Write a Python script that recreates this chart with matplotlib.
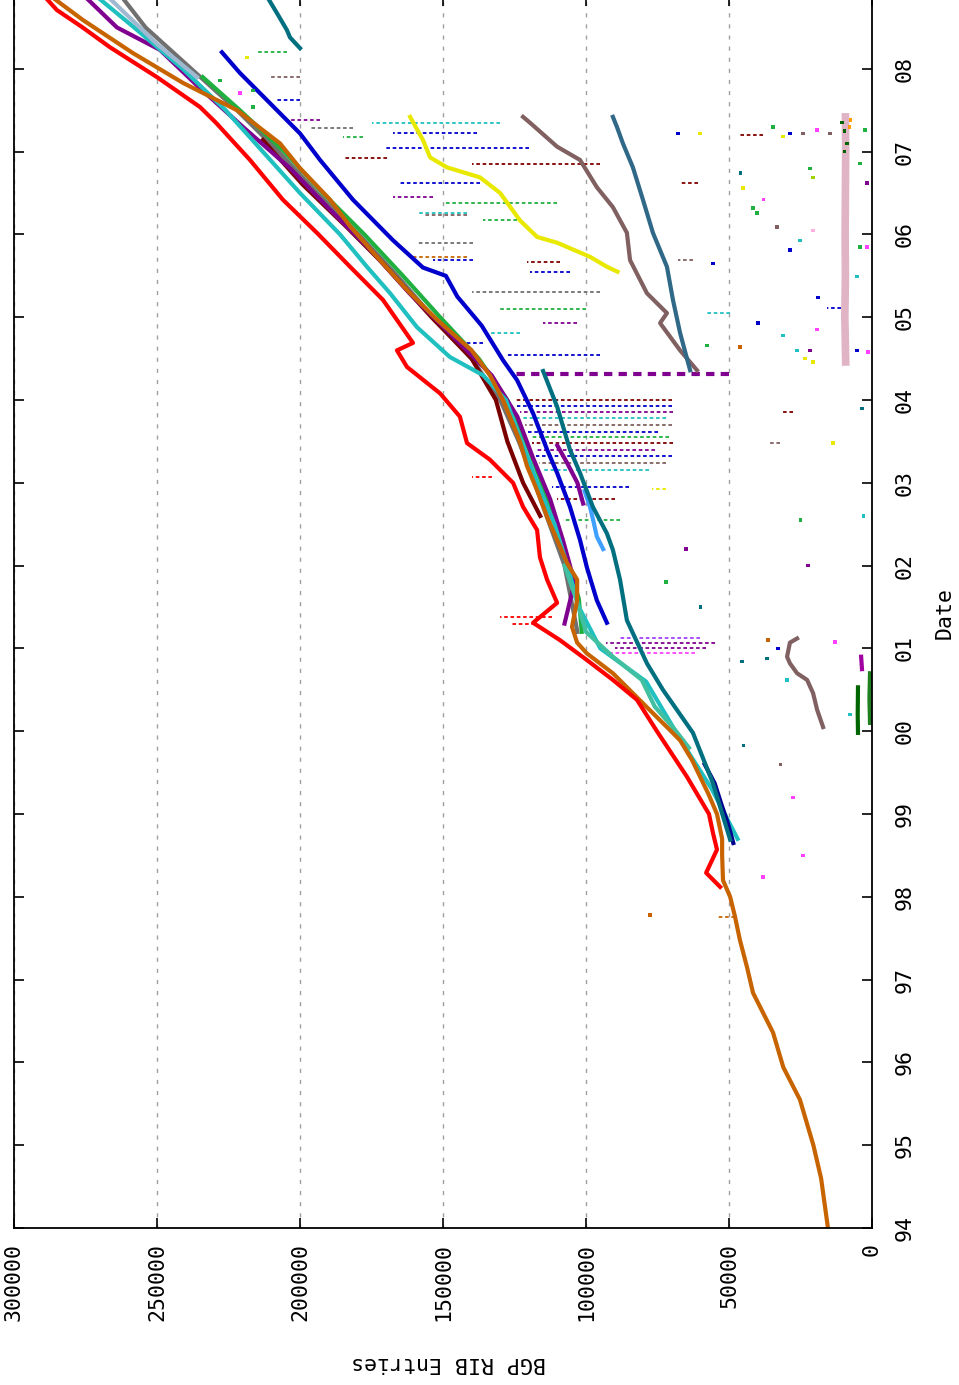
import matplotlib
matplotlib.use("Agg")
import matplotlib.pyplot as plt

# date (decimal year) / BGP RIB entries
orange_d = [1994.0, 1994.6, 1995.0, 1995.55, 1995.94, 1996.36, 1996.84, 1997.15, 1997.48, 1997.76,
            1998.0, 1998.2, 1998.5, 1998.7, 1999.0, 1999.25, 1999.45, 1999.65, 1999.89, 2000.05,
            2000.3, 2000.7, 2000.94, 2001.07, 2001.26, 2001.58, 2001.83, 2002.03, 2002.31, 2002.59,
            2002.91, 2003.2, 2003.5, 2004.0, 2004.3, 2004.6, 2004.97, 2005.33, 2005.73, 2006.1,
            2006.42, 2006.8, 2007.1, 2007.5, 2007.83, 2008.19, 2008.59, 2008.9]
orange_v = [15400, 17800, 20500, 25200, 31000, 34600, 41600, 43700, 46200, 47900,
            49600, 52100, 52400, 52400, 54200, 57300, 60100, 62900, 67100, 71700,
            79000, 90600, 99700, 103100, 104900, 103100, 103100, 106600, 110100, 113600,
            117100, 120600, 123100, 129000, 133600, 140000, 152100, 162600, 173100, 182500,
            189500, 200000, 207000, 222000, 240900, 258400, 275900, 288000]

red_d = [1998.12, 1998.29, 1998.57, 1998.77, 1999.0, 1999.45, 2000.0, 2000.38, 2000.62, 2000.86,
         2001.1, 2001.31, 2001.55, 2001.83, 2002.1, 2002.43, 2002.71, 2003.0, 2003.28, 2003.48,
         2003.8, 2004.08, 2004.4, 2004.6, 2004.69, 2005.21, 2005.61, 2006.02, 2006.42, 2006.9,
         2007.35, 2007.54, 2007.9, 2008.26, 2008.5, 2008.71, 2008.9]
red_v = [53100, 58000, 54200, 55600, 57000, 64700, 75200, 82200, 90600, 99700,
         109100, 118500, 110100, 113600, 116100, 117100, 122000, 125500, 133600, 141600,
         144100, 151000, 162600, 166100, 160500, 171000, 182500, 194100, 206000, 217500,
         229400, 235000, 250000, 266400, 276000, 285000, 290000]

teal_d = [1998.69, 1999.37, 1999.98, 2000.5, 2000.82, 2001.34, 2001.83, 2002.19, 2002.39, 2002.71,
          2003.12, 2003.4, 2003.92, 2004.35]
teal_v = [49600, 55600, 62600, 73100, 78700, 85700, 88100, 90600, 92700, 97600,
          102100, 105600, 110100, 115000]
teal_top_d = [2008.25, 2008.38, 2008.47, 2008.67, 2008.9]
teal_top_v = [200000, 203500, 204600, 208000, 212000]

blue_d = [2001.31, 2001.58, 2001.98, 2002.31, 2002.71, 2003.12, 2003.4, 2003.84, 2004.24, 2004.48,
          2004.9, 2005.25, 2005.5, 2005.6, 2005.93, 2006.42, 2006.9, 2007.22, 2007.62, 2007.95, 2008.2]
blue_v = [92700, 96200, 99700, 102100, 105600, 110100, 113600, 118500, 124100, 129000,
          136500, 145000, 149000, 157000, 167500, 181500, 193000, 200000, 211500, 221000, 227300]

maroon_d = [2002.6, 2003.0, 2003.5, 2004.0, 2004.5, 2005.0, 2005.65, 2006.1, 2006.6, 2007.14]
maroon_v = [116000, 122000, 127500, 131500, 140000, 154000, 171000, 184000, 199000, 213000]

purple_d = [2001.3, 2001.8, 2002.3, 2002.8, 2003.3, 2003.8, 2004.3, 2004.8, 2005.3, 2005.8,
            2006.3, 2006.8, 2007.3, 2007.8, 2008.23, 2008.5, 2008.9]
purple_v = [107500, 104000, 108000, 112500, 118500, 124000, 133000, 147500, 162000, 175000,
            189500, 203500, 220000, 236000, 249000, 264000, 276000]
purple_b_d = [2002.75, 2003.0, 2003.24, 2003.45]
purple_b_v = [101000, 103000, 106600, 110000]

cyan_d = [1998.7, 1999.3, 1999.9, 2000.6, 2001.0, 2001.5, 2002.0, 2002.5, 2003.0, 2003.5,
          2004.0, 2004.3, 2004.52, 2004.88, 2005.29, 2005.61, 2006.0, 2006.5, 2007.0, 2007.5,
          2008.0, 2008.5, 2008.9]
cyan_v = [47000, 56000, 67000, 79000, 95000, 102500, 106500, 111000, 117000, 122500,
          128000, 136000, 147600, 159100, 168500, 176600, 186000, 200000, 213000, 226000,
          241000, 258000, 272000]

gray_d = [2001.2, 2002.0, 2003.0, 2003.5, 2004.0, 2004.5, 2005.0, 2005.5, 2006.0, 2006.5,
          2007.0, 2007.5, 2008.0, 2008.5, 2008.9]
gray_v = [103000, 107500, 118000, 123500, 130000, 140000, 153500, 166000, 179500, 194000,
          207500, 222000, 238000, 254000, 263000]

silver_d = [2007.9, 2008.3, 2008.6, 2008.9]
silver_v = [236000, 250000, 259000, 268000]

green_d = [2001.2, 2001.6, 2002.0, 2002.5, 2003.0, 2003.5, 2004.0, 2004.5, 2005.0, 2005.5,
           2006.0, 2006.5, 2007.0, 2007.5, 2007.9]
green_v = [101500, 102500, 106000, 110000, 115500, 121000, 127500, 137500, 151000, 164000,
           177500, 192000, 205500, 221000, 234000]

seagreen_d = [1999.8, 2000.0, 2000.3, 2000.62, 2000.9, 2001.2, 2001.6, 2002.0]
seagreen_v = [64000, 68500, 76000, 80500, 90600, 100000, 103500, 107500]

navy_d = [1998.65, 1998.9, 1999.1, 1999.37, 1999.6]
navy_v = [48500, 50500, 52500, 55000, 58500]

lightblue_d = [2002.2, 2002.35, 2002.55, 2002.71, 2002.9]
lightblue_v = [94000, 96200, 97500, 98600, 100500]

yellow_d = [2005.55, 2005.61, 2005.73, 2005.9, 2005.97, 2006.17, 2006.5, 2006.69, 2006.81, 2006.93,
            2007.14, 2007.42]
yellow_v = [89000, 92700, 98600, 110100, 117100, 123100, 130000, 137100, 148600, 154500,
            157000, 161500]

brown_a_d = [2000.05, 2000.26, 2000.46, 2000.62, 2000.7, 2000.82, 2000.9, 2001.07, 2001.12]
brown_a_v = [17100, 19200, 20600, 22700, 26200, 28700, 29700, 28700, 26200]
brown_b_d = [2004.36, 2004.6, 2004.93, 2005.05, 2005.29, 2005.69, 2006.02, 2006.33, 2006.57, 2006.9,
             2007.06, 2007.35, 2007.42]
brown_b_v = [61200, 67100, 74100, 71700, 78700, 84600, 85700, 90600, 96200, 102100,
             110100, 119600, 122000]

steel_d = [2004.36, 2004.81, 2005.21, 2005.61, 2006.02, 2006.42, 2006.81, 2007.1, 2007.3, 2007.42]
steel_v = [63600, 67100, 69600, 71700, 76600, 80100, 83600, 87100, 89200, 90600]

pink_d = [2004.46, 2005.0, 2005.5, 2006.0, 2006.5, 2007.0, 2007.42]
pink_v = [9200, 9500, 9300, 9400, 9300, 9200, 9300]

dkgreen_d = [1999.98, 2000.2, 2000.53]
dkgreen_v = [4900, 5000, 4900]
dkgreen2_d = [2000.1, 2000.4, 2000.7]
dkgreen2_v = [700, 900, 700]
purple_s_d = [2000.75, 2000.9]
purple_s_v = [3500, 3800]

# session resets: date, lowest value, highest value, colour
streak_d = [2008.2, 2007.9, 2007.62, 2007.38, 2007.29, 2007.22, 2007.18, 2006.92, 2006.62, 2006.45,
            2006.26, 2005.9, 2005.69, 2005.73, 2006.23, 2006.17, 2005.67, 2005.55, 2004.93, 2004.81,
            2004.69, 2005.3, 2005.1, 2004.55, 2006.38, 2006.85, 2007.05, 2007.35, 2007.2, 2006.62,
            2005.69, 2005.11, 2005.05, 2004.32, 2004.0, 2003.93, 2003.86, 2003.78, 2003.7, 2003.62,
            2003.55, 2003.48, 2003.4, 2003.32, 2003.24, 2003.16, 2003.86, 2003.48, 2002.95, 2002.8,
            2002.55, 2002.92, 2000.95, 2001.0, 2001.07, 2001.12, 2001.38, 2001.29, 2003.07, 1997.76]
streak_lo = [204600, 200000, 200000, 193000, 181500, 138000, 178000, 169600, 137000, 153500,
             141600, 139500, 139500, 141600, 141600, 124000, 109100, 105600, 103100, 123100,
             136000, 95000, 100000, 95000, 110000, 95000, 120000, 130000, 38000, 61000,
             62600, 11000, 49600, 50000, 70000, 70000, 69600, 72000, 70000, 75000,
             71000, 69600, 76000, 70000, 72000, 78000, 27600, 32000, 85000, 90000,
             88000, 72000, 62000, 58000, 55000, 60000, 112000, 118000, 133000, 47900]
streak_hi = [215000, 210000, 208000, 203500, 196500, 167500, 185000, 185000, 165000, 167500,
             159100, 159100, 153500, 161500, 157000, 136000, 120600, 119600, 115000, 133600,
             143000, 140000, 130000, 128000, 150000, 140000, 170000, 175000, 47000, 67000,
             68000, 15700, 58000, 125000, 125000, 124000, 123000, 122000, 121500, 120500,
             119500, 119000, 118000, 117500, 116500, 115500, 31000, 35700, 112000, 110000,
             108000, 77000, 92000, 90000, 93000, 88000, 130000, 126000, 140000, 54200]
streak_c = ["#20b040", "#806060", "#0000cc", "#800090", "#707070", "#0000cc", "#20b040", "#800000",
            "#0000cc", "#800090", "#20c0c0", "#707070", "#0000cc", "#c86400", "#806060", "#20b040",
            "#800000", "#0000cc", "#800090", "#20c0c0", "#0000cc", "#707070", "#20b040", "#0000cc",
            "#20b040", "#800000", "#0000cc", "#20c0c0", "#800000", "#800000", "#806060", "#0000cc",
            "#20c0c0", "#800090", "#800000", "#0000cc", "#800090", "#20c0c0", "#806060", "#0000cc",
            "#20b040", "#800000", "#800090", "#0000cc", "#806060", "#20c0c0", "#800000", "#806060",
            "#0000cc", "#800000", "#20b040", "#e8e800", "#ff40ff", "#800090", "#800090", "#a040ff",
            "#ff0000", "#ff0000", "#ff0000", "#c86400"]

# stray single samples
dot_d = [2003.48, 2006.74, 2006.26, 2006.42, 2006.09, 2005.81, 2005.93, 2006.05, 2005.24, 2004.85,
         2004.6, 2004.6, 2004.5, 2004.46, 2004.78, 2004.93, 2004.64, 2007.3, 2007.18, 2007.26,
         2006.8, 2006.69, 2006.62, 2006.86, 2005.49, 2005.85, 2005.85, 2004.58, 2004.6, 2006.56,
         2006.32, 2004.66, 2005.65, 2007.22, 2007.22, 2008.14, 2007.86, 2007.74, 2007.71, 2007.54,
         2001.1, 2001.0, 2001.08, 2000.84, 2000.88, 2000.62, 2000.2, 1999.83, 1999.6, 1999.2,
         1998.5, 1998.24, 1997.78, 2001.8, 2002.2, 2001.5, 2002.55, 2002.0, 2002.6, 2003.9,
         2007.0, 2007.1, 2007.25, 2007.35, 2007.38, 2007.3, 2007.22, 2007.22, 2007.22, 2007.26]
dot_v = [13600, 46000, 40200, 38000, 33200, 28700, 25200, 20600, 18900, 19200,
         26200, 21700, 23400, 20600, 31100, 39900, 46200, 34600, 31100, 19200,
         21700, 20600, 1700, 4200, 5200, 1700, 4200, 1400, 5200, 45100,
         41600, 57700, 55600, 60100, 67800, 218500, 228000, 216400, 221000, 216400,
         36400, 32900, 12900, 45500, 36700, 29700, 7700, 45000, 32000, 27600,
         24100, 38100, 77600, 72000, 65000, 60000, 25000, 22400, 3000, 3500,
         9600, 8800, 9700, 10500, 7500, 7800, 14700, 24100, 28700, 2500]
dot_c = ["#e8e800", "#007080", "#20b040", "#ff40ff", "#806060", "#0000cc", "#20c0c0", "#ffb0e0",
         "#0000cc", "#ff40ff", "#20c0c0", "#800090", "#e8e800", "#e8e800", "#20c0c0", "#0000cc",
         "#c86400", "#20b040", "#e8e800", "#ff40ff", "#20b040", "#a0d000", "#800090", "#20b040",
         "#20c0c0", "#ff40ff", "#20b040", "#ff40ff", "#0000cc", "#e8e800", "#20b040", "#20b040",
         "#0000cc", "#e8e800", "#0000cc", "#e8e800", "#20b040", "#20b040", "#ff40ff", "#20b040",
         "#c86400", "#0000cc", "#ff40ff", "#007080", "#007080", "#20c0c0", "#20c0c0", "#007080",
         "#806060", "#ff40ff", "#ff40ff", "#ff40ff", "#c86400", "#20b040", "#800090", "#007080",
         "#20b040", "#800090", "#20c0c0", "#007080", "#006400", "#006400", "#006400", "#006400",
         "#ffa000", "#ffa000", "#806060", "#806060", "#0000cc", "#20b040"]

series = [
    (gray_d, gray_v, "#707070"), (green_d, green_v, "#20b040"), (maroon_d, maroon_v, "#7a0000"),
    (purple_d, purple_v, "#800090"), (cyan_d, cyan_v, "#20c0c0"), (silver_d, silver_v, "#a0b8d0"),
    (seagreen_d, seagreen_v, "#40c0a0"), (navy_d, navy_v, "#000090"),
    (lightblue_d, lightblue_v, "#40a0ff"), (purple_b_d, purple_b_v, "#800090"),
    (teal_d, teal_v, "#007080"), (teal_top_d, teal_top_v, "#007080"), (blue_d, blue_v, "#0000cc"),
    (yellow_d, yellow_v, "#e8e800"), (brown_a_d, brown_a_v, "#806060"),
    (brown_b_d, brown_b_v, "#806060"), (steel_d, steel_v, "#306888"),
    (dkgreen_d, dkgreen_v, "#006400"), (dkgreen2_d, dkgreen2_v, "#208020"),
    (purple_s_d, purple_s_v, "#a000a0"),
    (orange_d, orange_v, "#c86400"), (red_d, red_v, "#ff0000"),
]

years = list(range(1994, 2009))
year_labels = ["%02d" % (y % 100) for y in years]
entry_ticks = [0, 50000, 100000, 150000, 200000, 250000, 300000]

plt.rcParams["font.family"] = "DejaVu Sans Mono"
fig = plt.figure(figsize=(9.59, 13.85), dpi=100)
ax = fig.add_axes([14 / 959, 157 / 1385, 858 / 959, 1232 / 1385])

ax.grid(axis="x", color="#a0a0a0", linestyle=(0, (3, 5)), linewidth=1.0)
ax.set_axisbelow(True)

for d, lo, hi, c in zip(streak_d, streak_lo, streak_hi, streak_c):
    lw = 3.0 if d == 2004.32 else 1.3
    ax.plot([lo, hi], [d, d], color=c, linewidth=lw, linestyle=(0, (2, 1.5)))

ax.plot(pink_v, pink_d, color="#e0b4c4", linewidth=5.5)
for d, v, c in series:
    ax.plot(v, d, color=c, linewidth=3.0)
ax.scatter(dot_v, dot_d, c=dot_c, s=6, marker="s", linewidths=0, zorder=5)

ax.set_xlim(300000, 0)
ax.set_ylim(1994, 2008.88)
ax.set_xticks(entry_ticks)
ax.set_xticklabels([str(t) for t in entry_ticks], rotation=90)
ax.set_yticks(years)
ax.set_yticklabels(year_labels, rotation=90, va="center")
ax.tick_params(direction="in", length=7, width=1.2, labelsize=15.5,
               top=True, bottom=True, left=True, right=True,
               labelleft=False, labelright=True)
ax.tick_params(axis="x", pad=11)
ax.tick_params(axis="y", pad=16)
for s in ax.spines.values():
    s.set_linewidth(1.3)

fig.text(448 / 959, 1 - 1363 / 1385, "BGP RIB Entries", fontsize=15.5, rotation=180,
         ha="center", va="center")
fig.text(945 / 959, 1 - 613 / 1385, "Date", fontsize=15.5, rotation=90,
         ha="center", va="center")

fig.savefig("out.png", dpi=100)
